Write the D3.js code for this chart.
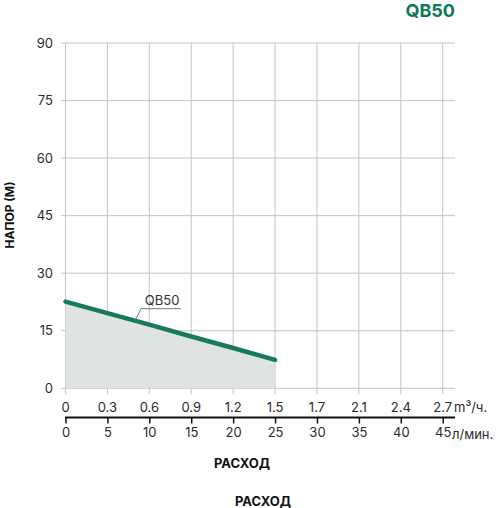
<!DOCTYPE html>
<html><head><meta charset="utf-8">
<script src="https://cdn.jsdelivr.net/npm/d3@7"></script>
<style>
html,body{margin:0;padding:0;background:#fff;}
svg{display:block;font-family:Inter,sans-serif;}
</style></head>
<body>
<svg id="c" width="498" height="508"></svg>
<script>
const flowLmin = [0,5,10,15,20,25,30,35,40,45];
const flowM3h = ["0","0.3","0.6","0.9","1.2","1.5","1.7","2.1","2.4","2.7"];
const headTicks = [0,15,30,45,60,75,90];
const curveFlow = [0,5,10,15,20,25];
const curveHead = [22.6,19.6,16.6,13.5,10.5,7.4];
const seriesName = "QB50";
const labelFlow = 8.3;

const svg = d3.select("#c");
const x = d3.scaleLinear().domain([0,45]).range([65.5,442.7]);
const y = d3.scaleLinear().domain([0,90]).range([388.3,43]);
const gridRight = 455;
const gridColor = "#c4c4c4";
const green = "#177a58";
const textColor = "#2a2a2a";

// horizontal grid
svg.append("g").selectAll("line").data(headTicks).join("line")
  .attr("x1",61).attr("x2",gridRight)
  .attr("y1",d=>y(d)).attr("y2",d=>y(d))
  .attr("stroke",gridColor).attr("stroke-width",1);
// vertical grid
svg.append("g").selectAll("line").data(flowLmin).join("line")
  .attr("x1",d=>x(d)).attr("x2",d=>x(d))
  .attr("y1",y(90)).attr("y2",y(0)+6)
  .attr("stroke",gridColor).attr("stroke-width",1);

// y labels
svg.append("g").selectAll("text").data(headTicks).join("text")
  .attr("x",53).attr("y",d=>y(d)).attr("dy","0.36em")
  .attr("text-anchor","end").attr("font-size",13).attr("fill",textColor)
  .text(d=>d);

// area + curve
const pts = curveFlow.map((f,i)=>[f,curveHead[i]]);
svg.append("path").datum(pts)
  .attr("d",d3.area().x(d=>x(d[0])).y0(y(0)).y1(d=>y(d[1])))
  .attr("fill","#dfe3e4");
svg.append("path").datum(pts)
  .attr("d",d3.line().x(d=>x(d[0])).y(d=>y(d[1])))
  .attr("fill","none").attr("stroke",green).attr("stroke-width",4.5).attr("stroke-linecap","round");

// series label with leader
const lh = d3.scaleLinear().domain(curveFlow).range(curveHead)(labelFlow);
const lx = x(labelFlow), ly = y(lh);
svg.append("path")
  .attr("d",`M${lx},${ly} L${lx+6},${ly-12} L${lx+46},${ly-12}`)
  .attr("fill","none").attr("stroke","#777").attr("stroke-width",1);
svg.append("text").attr("x",lx+27).attr("y",ly-15.5)
  .attr("text-anchor","middle").attr("font-size",13).attr("fill","#333").text(seriesName);

// top x labels (m3/h)
svg.append("g").selectAll("text").data(flowLmin).join("text")
  .attr("x",d=>x(d)).attr("y",407).attr("dy","0.36em")
  .attr("text-anchor","middle").attr("font-size",13).attr("fill",textColor)
  .text((d,i)=>flowM3h[i]);
svg.append("text").attr("x",454).attr("y",407).attr("dy","0.36em")
  .attr("font-size",13).attr("fill",textColor).text("m³/ч.");

// bottom axis (л/мин)
const ax = svg.append("g").attr("transform","translate(0,417.5)")
  .call(d3.axisBottom(x).tickValues(flowLmin).tickSize(6).tickSizeOuter(0).tickPadding(4));
ax.select(".domain").remove();
ax.insert("line",":first-child").attr("x1",x(0)-0.5).attr("x2",gridRight).attr("y1",0).attr("y2",0)
  .attr("stroke","#111").attr("stroke-width",2);
ax.selectAll(".tick line").attr("stroke","#111").attr("stroke-width",1.5);
ax.selectAll(".tick text").attr("font-size",13).attr("fill",textColor)
  .attr("font-family","Inter, sans-serif");
svg.append("text").attr("x",452).attr("y",434).attr("dy","0.36em")
  .attr("font-size",13).attr("fill",textColor).text("л/мин.");

// axis titles
svg.append("text").attr("x",242).attr("y",463).attr("dy","0.36em")
  .attr("text-anchor","middle").attr("font-size",13).attr("font-weight","bold").attr("fill","#111").text("РАСХОД");
svg.append("text").attr("x",263).attr("y",501).attr("dy","0.36em")
  .attr("text-anchor","middle").attr("font-size",13).attr("font-weight","bold").attr("fill","#111").text("РАСХОД");
svg.append("text").attr("transform","translate(10,215) rotate(-90)").attr("dy","0.36em")
  .attr("text-anchor","middle").attr("font-size",12).attr("font-weight","bold").attr("fill","#111").text("НАПОР (М)");

// title
svg.append("text").attr("x",455).attr("y",17)
  .attr("text-anchor","end").attr("font-size",18).attr("font-weight","bold").attr("fill","#0c7a58").text("QB50");
</script>
</body></html>
